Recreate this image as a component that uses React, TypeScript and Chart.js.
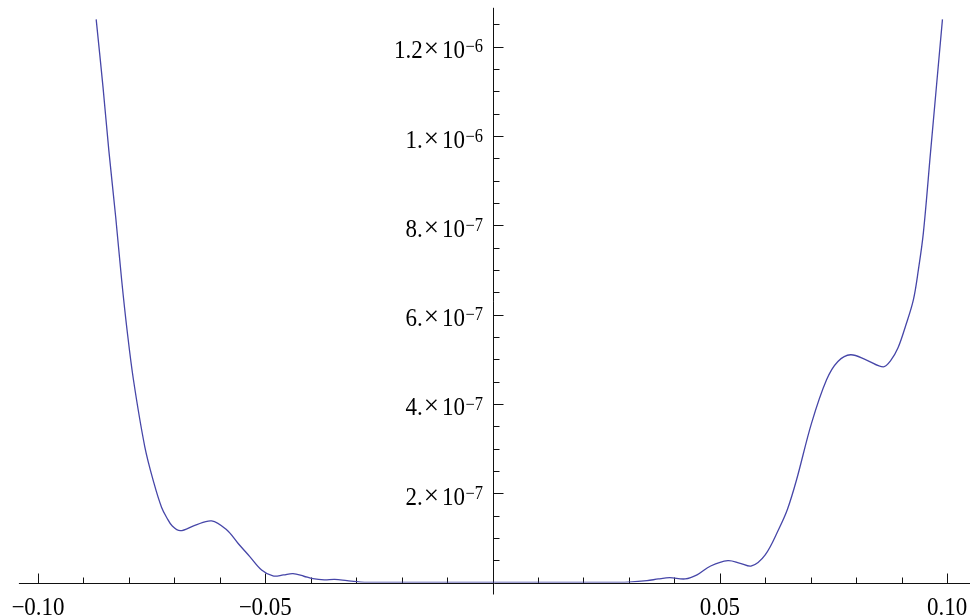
import { useEffect, useRef } from "react";
import { Chart, registerables } from "chart.js";

Chart.register(...registerables);

// Sampled curve: x values and y values (in units of 1e-7)
const curveX = [
  -0.0872, -0.0857, -0.0844, -0.0829, -0.0816, -0.0804, -0.079, -0.0765, -0.0745, -0.0728,
  -0.0716, -0.0705, -0.0687, -0.0655, -0.0618, -0.0585, -0.056, -0.0534, -0.0508, -0.0483,
  -0.046, -0.0439, -0.0415, -0.0395, -0.037, -0.0347, -0.032, -0.029, -0.025, -0.015,
  0.0, 0.015, 0.025, 0.03, 0.034, 0.0365, 0.039, 0.0424, 0.045, 0.048,
  0.0518, 0.0545, 0.057, 0.06, 0.063, 0.0649, 0.0669, 0.0702, 0.0735, 0.076,
  0.0788, 0.0823, 0.086, 0.0876, 0.0892, 0.0909, 0.0926, 0.0937, 0.0948, 0.0964,
  0.099,
];
const curveY = [
  12.61, 11.1, 9.66, 8.18, 6.78, 5.65, 4.54, 3.04, 2.23, 1.68,
  1.44, 1.27, 1.16, 1.28, 1.38, 1.18, 0.88, 0.58, 0.28, 0.146,
  0.17, 0.2, 0.14, 0.085, 0.06, 0.07, 0.04, 0.01, 0, 0,
  0, 0, 0, 0.01, 0.04, 0.08, 0.107, 0.08, 0.17, 0.37,
  0.49, 0.43, 0.37, 0.62, 1.2, 1.64, 2.3, 3.57, 4.54, 4.95,
  5.1, 4.98, 4.83, 4.97, 5.25, 5.75, 6.33, 7.0, 7.83, 9.66,
  12.61,
];
const yUnit = 1e-7;

// Axis ticks and labels
const xMajorTicks = [-0.1, -0.05, 0.05, 0.1];
const xTickLabels = ["\u22120.10", "\u22120.05", "0.05", "0.10"];
const xMinorTicks = [-0.09, -0.08, -0.07, -0.06, -0.04, -0.03, -0.02, -0.01, 0.01, 0.02, 0.03, 0.04, 0.06, 0.07, 0.08, 0.09];
const yMajorTicks = [2e-7, 4e-7, 6e-7, 8e-7, 1e-6, 1.2e-6];
const yLabelMantissa = ["2.", "4.", "6.", "8.", "1.", "1.2"];
const yLabelExponent = ["\u22127", "\u22127", "\u22127", "\u22127", "\u22126", "\u22126"];
const yMinorTicks = [
  0.5e-7, 1e-7, 1.5e-7, 2.5e-7, 3e-7, 3.5e-7, 4.5e-7, 5e-7, 5.5e-7, 6.5e-7, 7e-7, 7.5e-7,
  8.5e-7, 9e-7, 9.5e-7, 1.05e-6, 1.1e-6, 1.15e-6, 1.25e-6,
];
const xAxisExtent = [-0.1042, 0.1052];
const yAxisTop = 1.287e-6;

const FONT = '"Liberation Serif", "Times New Roman", serif';
const TEXT_STRETCH = 1.08;
const LABEL_SIZE = 23;
const SUP_SIZE = 16.5;
const TIMES_SIZE = 27;

function stretchedText(ctx: CanvasRenderingContext2D, text: string, x: number, baseline: number, size: number, align: CanvasTextAlign, stretch = TEXT_STRETCH) {
  ctx.save();
  ctx.font = `${size}px ${FONT}`;
  ctx.textAlign = align;
  ctx.textBaseline = "alphabetic";
  ctx.translate(x, baseline);
  ctx.scale(1, stretch);
  ctx.fillText(text, 0, 0);
  ctx.restore();
}

function textWidth(ctx: CanvasRenderingContext2D, text: string, size: number) {
  ctx.save();
  ctx.font = `${size}px ${FONT}`;
  const w = ctx.measureText(text).width;
  ctx.restore();
  return w;
}

const crossAxes = {
  id: "crossAxes",
  beforeDatasetsDraw(chart: any) {
    const { ctx, scales } = chart;
    const xs = scales.x;
    const ys = scales.y;
    const x0 = Math.round(xs.getPixelForValue(0)) + 0.5;
    const y0 = Math.round(ys.getPixelForValue(0)) + 0.5;
    ctx.save();
    ctx.strokeStyle = "#111";
    ctx.fillStyle = "#000";
    ctx.lineWidth = 1;

    // axis lines
    ctx.beginPath();
    ctx.moveTo(xs.getPixelForValue(xAxisExtent[0]), y0);
    ctx.lineTo(xs.getPixelForValue(xAxisExtent[1]), y0);
    ctx.moveTo(x0, ys.getPixelForValue(yAxisTop));
    ctx.lineTo(x0, y0 + 11);
    ctx.stroke();

    // x ticks (pointing up)
    ctx.beginPath();
    xMajorTicks.forEach((v) => {
      const px = Math.round(xs.getPixelForValue(v)) + 0.5;
      ctx.moveTo(px, y0);
      ctx.lineTo(px, y0 - 10);
    });
    xMinorTicks.forEach((v) => {
      const px = Math.round(xs.getPixelForValue(v)) + 0.5;
      ctx.moveTo(px, y0);
      ctx.lineTo(px, y0 - 6);
    });
    // y ticks (pointing right)
    yMajorTicks.forEach((v) => {
      const py = Math.round(ys.getPixelForValue(v)) + 0.5;
      ctx.moveTo(x0, py);
      ctx.lineTo(x0 + 10, py);
    });
    yMinorTicks.forEach((v) => {
      const py = Math.round(ys.getPixelForValue(v)) + 0.5;
      ctx.moveTo(x0, py);
      ctx.lineTo(x0 + 6, py);
    });
    ctx.stroke();

    // x tick labels
    xMajorTicks.forEach((v, i) => {
      stretchedText(ctx, xTickLabels[i], xs.getPixelForValue(v), y0 + 31.5, LABEL_SIZE, "center");
    });

    // y tick labels: mantissa × 10^exp, right-aligned left of the axis
    const right = x0 - 10.5;
    yMajorTicks.forEach((v, i) => {
      const py = ys.getPixelForValue(v);
      const base = py + 11.6;
      const supW = textWidth(ctx, yLabelExponent[i], SUP_SIZE);
      stretchedText(ctx, yLabelExponent[i], right, base - 5.8, SUP_SIZE, "right");
      const tenRight = right - supW - 0.5;
      stretchedText(ctx, "10", tenRight, base, LABEL_SIZE, "right");
      const tenLeft = tenRight - textWidth(ctx, "10", LABEL_SIZE);
      const timesRight = tenLeft - 3;
      stretchedText(ctx, "\u00d7", timesRight, base - 1, TIMES_SIZE, "right", 1);
      const timesLeft = timesRight - textWidth(ctx, "\u00d7", TIMES_SIZE);
      stretchedText(ctx, yLabelMantissa[i], timesLeft - 1, base, LABEL_SIZE, "right");
    });
    ctx.restore();
  },
};

export default function App() {
  const canvasRef = useRef<HTMLCanvasElement | null>(null);

  useEffect(() => {
    if (!canvasRef.current) return;
    const points = curveX.map((x, i) => ({ x, y: curveY[i] * yUnit }));
    const chart = new Chart(canvasRef.current, {
      type: "line",
      data: {
        datasets: [
          {
            data: points,
            borderColor: "#4646a8",
            borderWidth: 1.3,
            pointRadius: 0,
            fill: false,
            tension: 0.35,
          },
        ],
      },
      options: {
        animation: false,
        responsive: false,
        devicePixelRatio: 1,
        layout: { padding: { left: 38, right: 23, top: 2, bottom: 33.5 } },
        plugins: { legend: { display: false }, tooltip: { enabled: false } },
        scales: {
          x: { type: "linear", min: -0.1, max: 0.1, display: false },
          y: { type: "linear", min: 0, max: 1.3e-6, display: false },
        },
      },
      plugins: [crossAxes],
    });
    return () => chart.destroy();
  }, []);

  return (
    <div style={{ position: "fixed", left: 0, top: 0, width: 970, height: 616, background: "#fff" }}>
      <canvas ref={canvasRef} width={970} height={616} />
    </div>
  );
}
